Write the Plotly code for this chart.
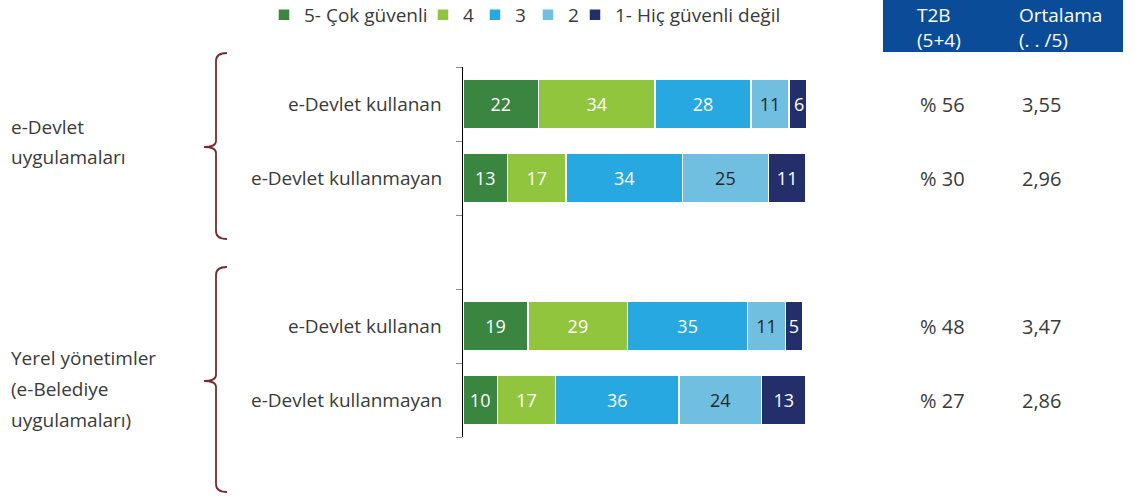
import plotly.graph_objects as go

# ---------------- data ----------------
row_labels = ["e-Devlet kullanan", "e-Devlet kullanmayan", "e-Devlet kullanan", "e-Devlet kullanmayan"]
row_pos = [0, 1, 3, 4]
series_names = ["5- Çok güvenli", "4", "3", "2", "1- Hiç güvenli değil"]
series_colors = ["#3A8540", "#92C53E", "#28A8E0", "#71BFE0", "#232E6A"]
series_text_colors = ["white", "white", "white", "#262626", "white"]
v5 = [22, 13, 19, 10]
v4 = [34, 17, 29, 17]
v3 = [28, 34, 35, 36]
v2 = [11, 25, 11, 24]
v1 = [6, 11, 5, 13]
series_values = [v5, v4, v3, v2, v1]
t2b = ["% 56", "% 30", "% 48", "% 27"]
ortalama = ["3,55", "2,96", "3,47", "2,86"]
group_label_lines = [["e-Devlet", "uygulamaları"], ["Yerel yönetimler", "(e-Belediye", "uygulamaları)"]]
header_t2b = "T2B<br>(5+4)"
header_ort = "Ortalama<br>(. . /5)"

# ---------------- layout geometry (pixels) ----------------
W, H = 1139, 498
PL, PR, PT, PB = 463, 806, 67, 437  # plot area in pixels


def px(x):
    return (x - PL) / (PR - PL)


def py(y):
    return (PB - y) / (PB - PT)


FONT = "Open Sans"
TXT = "#3a3a3a"
legend_square_x = [279, 438, 490, 543, 590]

fig = go.Figure()
for i, (name, vals, col, tcol) in enumerate(zip(series_names, series_values, series_colors, series_text_colors)):
    fig.add_trace(go.Bar(
        name=name, y=row_pos, x=vals, orientation="h",
        marker=dict(color=col, line=dict(color="white", width=1.5)),
        width=0.66,
        text=vals, texttemplate="%{x}", textposition="inside",
        insidetextanchor="middle", textangle=0,
        textfont=dict(color=tcol, size=18, family=FONT),
        hoverinfo="skip",
        legend="legend" if i == 0 else f"legend{i+1}",
    ))

annotations = []
for lab, p in zip(row_labels, row_pos):
    annotations.append(dict(text=lab, x=px(444), xref="paper", y=p, yref="y",
                            xanchor="right", yanchor="middle", showarrow=False,
                            font=dict(size=19, color=TXT, family=FONT)))
for a, b, p in zip(t2b, ortalama, row_pos):
    annotations.append(dict(text=a, x=px(918), xref="paper", y=p, yref="y",
                            xanchor="left", yanchor="middle", showarrow=False,
                            font=dict(size=20, color=TXT, family=FONT)))
    annotations.append(dict(text=b, x=px(1041), xref="paper", y=p, yref="y",
                            xanchor="center", yanchor="middle", showarrow=False,
                            font=dict(size=20, color=TXT, family=FONT)))

# header
annotations.append(dict(text=header_t2b, x=px(915), xref="paper", y=py(27), yref="paper",
                        xanchor="left", yanchor="middle", align="left", showarrow=False,
                        font=dict(size=19, color="white", family=FONT)))
annotations.append(dict(text=header_ort, x=px(1017), xref="paper", y=py(27), yref="paper",
                        xanchor="left", yanchor="middle", align="left", showarrow=False,
                        font=dict(size=19, color="white", family=FONT)))

# group labels
for lines, ys in zip(group_label_lines, [[127, 157], [358, 389, 420]]):
    for line, yy in zip(lines, ys):
        annotations.append(dict(text=line, x=px(9), xref="paper", y=py(yy), yref="paper",
                                xanchor="left", yanchor="middle", showarrow=False,
                                font=dict(size=19, color=TXT, family=FONT)))


def brace(top, mid, bot, xv=216, xr=227, xl=204):
    path = (f"M {px(xr)},{py(top)} Q {px(xv)},{py(top)} {px(xv)},{py(top+8)} "
            f"L {px(xv)},{py(mid-6)} Q {px(xv)},{py(mid)} {px(xl)},{py(mid)} "
            f"Q {px(xv)},{py(mid)} {px(xv)},{py(mid+6)} "
            f"L {px(xv)},{py(bot-8)} Q {px(xv)},{py(bot)} {px(xr)},{py(bot)}")
    return dict(type="path", path=path, xref="paper", yref="paper",
                line=dict(color="#7A2A2E", width=1.8))


shapes = [
    dict(type="rect", xref="paper", yref="paper", x0=px(883), x1=px(1123), y0=py(52), y1=py(0),
         fillcolor="#0A4C98", line=dict(width=0), layer="below"),
    brace(53, 147, 239),
    brace(267, 381, 492),
]

legend_common = dict(orientation="h", xanchor="left", y=py(15), yanchor="middle",
                     itemwidth=30, font=dict(size=19, color=TXT, family=FONT),
                     bgcolor="rgba(0,0,0,0)", itemclick=False, itemdoubleclick=False)
legends = {}
for i, sx in enumerate(legend_square_x):
    key = "legend" if i == 0 else f"legend{i+1}"
    legends[key] = dict(legend_common, x=px(sx - 15))

fig.update_layout(
    width=W, height=H, autosize=False,
    barmode="stack",
    plot_bgcolor="white", paper_bgcolor="white",
    margin=dict(l=PL, r=W - PR, t=PT, b=H - PB, pad=0, autoexpand=False),
    font=dict(family=FONT, color=TXT, size=16),
    xaxis=dict(range=[0, 100], visible=False, fixedrange=True),
    yaxis=dict(range=[4.5, -0.5], tickvals=[-0.5, 0.5, 1.5, 2.5, 3.5, 4.5],
               showticklabels=False, ticks="outside", ticklen=6, tickcolor="#8c8c8c",
               showline=True, linecolor="black", linewidth=1, showgrid=False,
               zeroline=False, fixedrange=True),
    showlegend=True,
    annotations=annotations,
    shapes=shapes,
    **legends,
)

fig.write_html("out.html", config={"displayModeBar": False},
               post_script="document.body.style.margin='0';")
